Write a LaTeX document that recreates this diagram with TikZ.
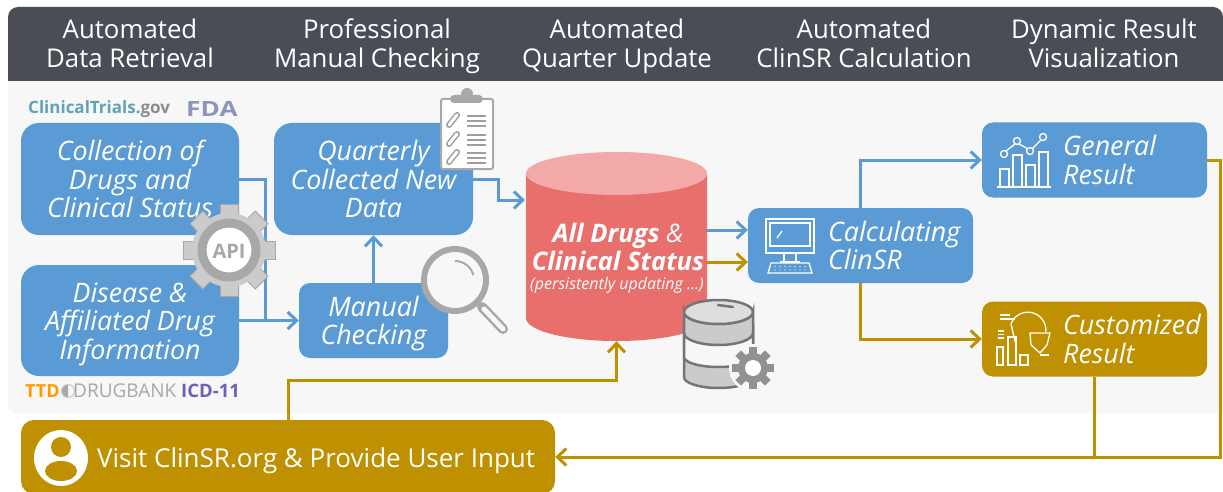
\documentclass[tikz,border=0pt]{standalone}
\usepackage{fontspec}
\usepackage{graphicx}
\setmainfont{Open Sans}
\usetikzlibrary{arrows.meta}
\definecolor{boxblue}{HTML}{5B9BD5}
\definecolor{boxgold}{HTML}{BF9000}
\definecolor{headgray}{HTML}{4A4D55}
\definecolor{panelgray}{HTML}{F7F7F7}
\definecolor{dbred}{HTML}{E96F6C}
\definecolor{dbtop}{HTML}{F3A9A7}
\definecolor{icongray}{HTML}{A8A8A8}
\definecolor{iconfill}{HTML}{CBCBCB}
\definecolor{stackgray}{HTML}{757575}
\tikzset{
  twolines/.style={text height=49.5pt,text depth=1pt},
  threelines/.style={text height=78pt,text depth=1pt},
  headtext/.style={twolines,text=white,align=center,inner sep=0pt,
    font=\fontsize{25.8}{28.5}\selectfont},
  bluebox/.style={fill=boxblue,rounded corners=18pt,text=white,align=center,inner sep=0pt,
    font=\fontsize{26.8}{28.5}\selectfont\itshape},
  smallbox/.style={bluebox,rounded corners=11pt,minimum width=225pt,minimum height=75pt},
  goldbox/.style={smallbox,fill=boxgold},
  boxtext/.style={twolines,text=white,align=left,anchor=west,inner sep=0pt,
    font=\fontsize{26.8}{28.5}\selectfont\itshape},
  blueline/.style={draw=boxblue,line width=3pt,>={Straight Barb[length=9pt,width=17pt]}},
  goldline/.style={draw=boxgold,line width=3pt,>={Straight Barb[length=9pt,width=17pt]}},
  whiteicon/.style={draw=white,line width=1.3pt,fill=none},
}
\begin{document}
\begin{tikzpicture}[x=1pt,y=-1pt]
\useasboundingbox (0,0) rectangle (1223,492);
% Draw header band and grey panel
\fill[panelgray,rounded corners=8pt] (8,60) rectangle (1240,413);
\fill[headgray,rounded corners=10pt] (8,81) -- (8,7) -- (1223,7) -- (1223,40) [sharp corners] -- (1223,81) -- cycle;
\node[headtext] (headretrieval) at (130,43) {Automated\\Data Retrieval};
\node[headtext] (headchecking) at (377,43) {Professional\\Manual Checking};
\node[headtext] (headupdate) at (617,43) {Automated\\Quarter Update};
\node[headtext] (headcalc) at (864,43) {Automated\\ClinSR Calculation};
\node[headtext] (headvisual) at (1104,43) {Dynamic Result\\Visualization};
% Draw source names
\node[inner sep=0pt,anchor=west,font=\fontsize{17}{18}\selectfont\bfseries] (logotrials) at (28,109)
  {\textcolor[HTML]{62A2B6}{ClinicalTrials}\textcolor[HTML]{8C8C8C}{.gov}};
\node[inner sep=0pt,anchor=west,font=\fontsize{21}{22}\selectfont\bfseries] (logofda) at (186,109)
  {\textcolor[HTML]{8C96BC}{\scalebox{1.25}[1]{FDA}}};
\node[inner sep=0pt,anchor=west,text={rgb,255:red,255;green,153;blue,0},font=\fontsize{18}{18}\selectfont\bfseries] (logottd) at (25,391) {TTD};
\fill[icongray] (68,384.5) arc (-90:-270:6.5) -- cycle;
\draw[iconfill,line width=1pt] (68,391) circle (6.5);
\node[inner sep=0pt,anchor=west,text=icongray,font=\fontsize{19}{18}\selectfont] (logobank) at (73,391) {DRUGBANK};
\node[inner sep=0pt,anchor=west,text={rgb,255:red,106;green,98;blue,181},font=\fontsize{18.5}{18}\selectfont\bfseries] (logoicd) at (181,391) {ICD-11};
% Draw the main boxes
\node[bluebox,threelines,minimum width=218pt,minimum height=112pt] (collect) at (130,179)
  {Collection of\\Drugs and\\Clinical Status};
\node[bluebox,threelines,minimum width=218pt,minimum height=111pt] (disease) at (130,320.5)
  {Disease \&\\Affiliated Drug\\Information};
\node[bluebox,threelines,minimum width=199pt,minimum height=112pt] (quarter) at (373.5,179)
  {Quarterly\\Collected New\\Data};
\node[bluebox,twolines,rounded corners=11pt,minimum width=149pt,minimum height=75pt] (manual) at (373.5,320.5)
  {Manual\\Checking};
% Draw the database drum
\node[inner sep=0pt,minimum width=181pt,minimum height=189pt] (db) at (616.5,246.5) {};
\fill[dbred] (526,174) -- (526,318) arc (180:0:90.5 and 23) -- (707,174) -- cycle;
\fill[dbtop] (616.5,173.5) ellipse (90.5 and 21.5);
\node[twolines,text=white,align=center,inner sep=0pt,
  font=\fontsize{25.5}{28.5}\selectfont\bfseries\itshape] (dbtext) at (618,246.5)
  {All Drugs {\mdseries\&}\\Clinical Status};
\node[text=white,inner sep=0pt,font=\fontsize{16}{16}\selectfont\itshape] (dbnote) at (617,285) {(persistently updating ...)};
\node[smallbox] (calc) at (860.5,245.5) {};
\node[smallbox] (general) at (1094.5,160) {};
\node[goldbox] (custom) at (1094.5,339) {};
\node[goldbox,rounded corners=13pt,minimum width=534pt,minimum height=74pt] (visit) at (288,457) {};
\node[boxtext] (calctext) at (828,245.5) {Calculating\\ClinSR};
\node[boxtext] (generaltext) at (1063,160) {General\\Result};
\node[boxtext] (customtext) at (1063,339) {Customized\\Result};
\node[text=white,anchor=west,inner sep=0pt,font=\fontsize{26}{28.5}\selectfont] (visittext) at (97,461) {Visit ClinSR.org \& Provide User Input};
% Draw connectors
\coordinate (apiturn) at (265,320.5);
\coordinate (quarterturn) at (498,200);
\coordinate (dbin) at (525,200);
\coordinate (dbblue) at (707,230);
\coordinate (dbgold) at (707,262);
\coordinate (visitturn) at (616.5,380);
\coordinate (loopturn) at (1220,300);
\draw[blueline] (collect.east) -| (apiturn);
\draw[blueline,->] (disease.east) -- (manual.west);
\draw[blueline,->] (manual.north) -- (quarter.south);
\draw[blueline,->] (quarter.east) -| (quarterturn) -- (dbin);
\draw[blueline,->] (dbblue) -- (dbblue -| calc.west);
\draw[goldline,->] (dbgold) -- (dbgold -| calc.west);
\draw[blueline,->] (calc.north) |- (general.west);
\draw[goldline,->] (calc.south) |- (custom.west);
\draw[goldline,->] (general.east) -| (loopturn) |- (visit.east);
\draw[goldline] (custom.south) -- (custom.south |- visit.east);
\draw[goldline,->] (visit.north) |- (visitturn) -- (db.south);
% Draw API gear
\foreach \a in {0,45,...,315}
  \fill[iconfill,draw=icongray,line width=1pt,rotate around={\a:(229,250)}] (220,204) rectangle (238,222);
\fill[iconfill] (229,250) circle (37);
\draw[icongray,line width=9pt,fill=white] (229,250) circle (27);
\node[text=icongray,inner sep=0pt,font=\fontsize{20}{20}\selectfont\bfseries] (apitext) at (229,251) {API};
% Draw clipboard
\draw[icongray,line width=2pt,fill=white,rounded corners=2pt] (441,99) rectangle (493,169);
\fill[icongray,rounded corners=4pt] (450,95) rectangle (483,103);
\fill[icongray] (467,94) circle (6);
\foreach \y in {120,139,157} {
  \draw[stackgray!70,line width=6pt,line cap=round] (449,\y+5) -- (457,\y-5);
  \draw[white,line width=3pt,line cap=round] (449,\y+5) -- (457,\y-5);
  \foreach \d in {-4,1,6}
    \draw[stackgray!70,line width=1.5pt] (467,\y+\d) -- (486,\y+\d);
}
% Draw magnifier
\draw[icongray,line width=10pt,line cap=round] (482,307) -- (503,329);
\draw[panelgray,line width=5pt,line cap=round] (484,309) -- (503,329);
\draw[icongray,line width=6pt,fill=panelgray] (455,280) circle (31);
\draw[icongray,line width=2pt] (455,261) arc (-90:-15:19);
% Draw database stack
\draw[stackgray,line width=2.5pt,fill=iconfill] (684,312) -- (684,377) arc (180:0:34.5 and 11) -- (753,312) arc (0:180:34.5 and 12) -- cycle;
\draw[stackgray,line width=2.5pt,fill=panelgray] (684,333) arc (180:0:34.5 and 12) -- (753,357) arc (0:180:34.5 and 10) -- cycle;
\draw[stackgray,line width=2.5pt,fill=panelgray!90!black] (718.5,312) ellipse (34.5 and 12);
\draw[stackgray,line width=2.5pt,line cap=round] (718,305) -- (733,307);
\fill[panelgray] (753,368) circle (24);
\foreach \a in {0,45,...,315}
  \fill[stackgray!80,rotate around={\a:(753,368)}] (749,347) rectangle (757,358);
\fill[stackgray!80] (753,368) circle (15);
\fill[white] (753,368) circle (8);
% Draw monitor icon
\draw[whiteicon] (766,219) rectangle (814,253);
\draw[whiteicon] (770,223) rectangle (810,246);
\draw[whiteicon] (784,253) -- (784,262) (796,253) -- (796,262) (780,262) -- (800,262);
\draw[whiteicon] (771,263) -- (809,263) -- (812,273) -- (768,273) -- cycle;
\draw[whiteicon] (777,238) -- (782,231);
\foreach \x in {775,780,...,805} {
  \fill[white] (\x,266.5) circle (0.7);
  \fill[white] (\x,270) circle (0.7);
}
% Draw chart icon
\draw[whiteicon] (997,187) -- (1051,187);
\draw[whiteicon] (1000,187) rectangle (1009,169);
\draw[whiteicon] (1013,187) rectangle (1022,155);
\draw[whiteicon] (1026,187) rectangle (1035,165);
\draw[whiteicon] (1039,187) rectangle (1048,152);
\foreach \x/\y [count=\i] in {1004/154,1017/141,1030/151,1043/137}
  \draw[whiteicon] (\x,\y) circle (3.5);
\draw[whiteicon] (1006,151) -- (1015,144) (1019,144) -- (1028,149) (1032,149) -- (1041,140);
% Draw customized icon
\draw[whiteicon] (1011,324) arc (-160:5:18) (1011,324) -- (1016,345);
\draw[whiteicon] (1000,315) -- (1010,315) (1000,319) -- (1015,319);
\draw[whiteicon] (998,331) -- (1004,331) (998,334.5) -- (1004,334.5) (998,338) -- (1004,338);
\draw[whiteicon] (997,347) rectangle (1003,365);
\draw[whiteicon] (1008,337) rectangle (1016,365);
\draw[whiteicon] (1020,355) rectangle (1028,365);
\draw[whiteicon] (1030,333) -- (1050,333) -- (1047,345) -- (1040,353) -- (1031,345) -- cycle;
\draw[whiteicon] (1040,355) -- (1049,355);
% Draw user icon
\fill[white] (61,458) ellipse (27 and 28);
\fill[boxgold] (61,447) circle (10);
\fill[boxgold] (61,471) ellipse (16 and 10);
\end{tikzpicture}
\end{document}
